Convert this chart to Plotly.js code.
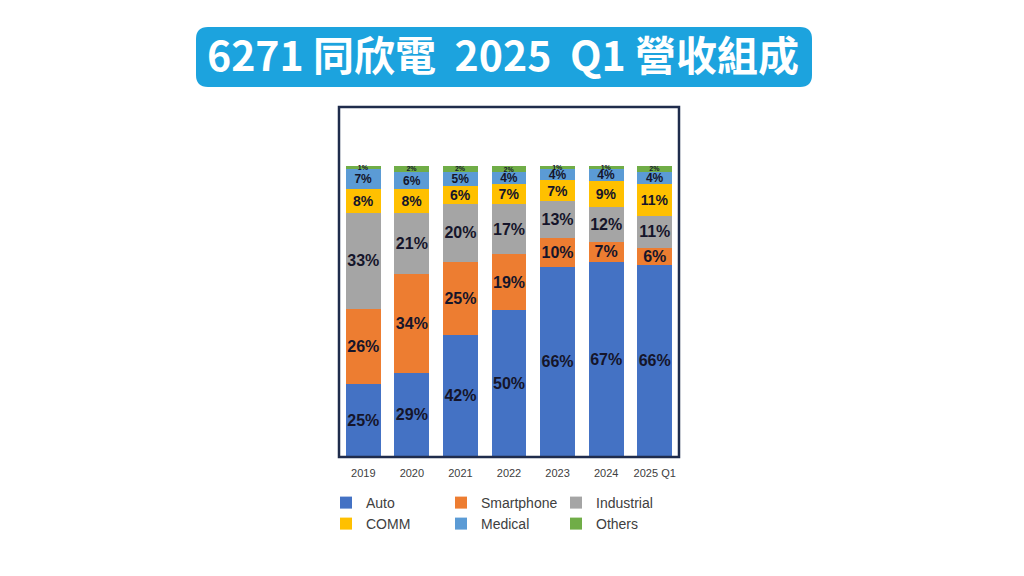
<!DOCTYPE html>
<html>
<head>
<meta charset="utf-8">
<script src="https://cdn.plot.ly/plotly-3.0.1.min.js"></script>
<style>html,body{margin:0;padding:0;background:#fff;}#chart{width:1024px;height:576px;}</style>
</head>
<body>
<div id="chart"></div>
<script>
const categories = ['2019', '2020', '2021', '2022', '2023', '2024', '2025 Q1'];
const autoVals = [25, 29, 42, 50, 66, 67, 66];
const smartphoneVals = [26, 34, 25, 19, 10, 7, 6];
const industrialVals = [33, 21, 20, 17, 13, 12, 11];
const commVals = [8, 8, 6, 7, 7, 9, 11];
const medicalVals = [7, 6, 5, 4, 4, 4, 4];
const othersVals = [1, 2, 2, 2, 1, 1, 2];
const seriesNames = ['Auto', 'Smartphone', 'Industrial', 'COMM', 'Medical', 'Others'];
const titleText = '6271 同欣電  2025  Q1 營收組成';

const W = 1024, H = 576;
const M = {l: 339, r: 345, t: 107, b: 119};
const PW = W - M.l - M.r, PH = H - M.t - M.b;
const px = x => (x - M.l) / PW;
const py = y => (H - M.b - y) / PH;

function roundRect(x0, y0, x1, y1, r) {
  const P = (x, y) => px(x).toFixed(5) + ',' + py(y).toFixed(5);
  return 'M' + P(x0 + r, y0) + ' L' + P(x1 - r, y0) + ' Q' + P(x1, y0) + ' ' + P(x1, y0 + r) +
    ' L' + P(x1, y1 - r) + ' Q' + P(x1, y1) + ' ' + P(x1 - r, y1) +
    ' L' + P(x0 + r, y1) + ' Q' + P(x0, y1) + ' ' + P(x0, y1 - r) +
    ' L' + P(x0, y0 + r) + ' Q' + P(x0, y0) + ' ' + P(x0 + r, y0) + ' Z';
}

const colors = ['#4472C4', '#ED7D31', '#A5A5A5', '#FFC000', '#5B9BD5', '#70AD47'];
const labelSizes = [16, 16, 16, 14, 12, 7];
const allVals = [autoVals, smartphoneVals, industrialVals, commVals, medicalVals, othersVals];

const traces = allVals.map((vals, i) => ({
  type: 'bar',
  name: seriesNames[i],
  x: categories,
  y: vals,
  text: vals.map(v => v + '%'),
  textposition: 'inside',
  insidetextanchor: 'middle',
  textangle: 0,
  constraintext: 'none',
  textfont: {family: 'Liberation Sans, Arial, sans-serif', size: labelSizes[i], color: '#15152a', weight: 'bold'},
  marker: {color: colors[i], line: {width: 0}},
  hoverinfo: 'skip',
  legend: i < 3 ? 'legend' : 'legend2'
}));

const legendCommon = {
  orientation: 'h', xref: 'paper', yref: 'paper', xanchor: 'left', yanchor: 'top',
  entrywidth: 70, entrywidthmode: 'pixels', traceorder: 'normal',
  font: {family: 'Liberation Sans, Arial, sans-serif', size: 14, color: '#404040'},
  bgcolor: 'rgba(0,0,0,0)', borderwidth: 0
};

const layout = {
  width: W, height: H,
  margin: M,
  paper_bgcolor: '#ffffff', plot_bgcolor: '#ffffff',
  barmode: 'stack', barnorm: 'percent', bargap: 0.28,
  showlegend: true,
  title: {
    text: '<b>' + titleText + '</b>',
    x: 503 / W, y: 1 - 57 / H, xref: 'container', yref: 'container',
    xanchor: 'center', yanchor: 'middle',
    font: {family: 'Noto Sans CJK TC, Noto Sans, sans-serif', size: 41, color: '#ffffff'}
  },
  xaxis: {
    type: 'category', range: [-0.5, 6.5], showgrid: false, zeroline: false, showline: false,
    ticks: '', ticklabelstandoff: 8,
    tickfont: {family: 'Liberation Sans, Arial, sans-serif', size: 11, color: '#404040'},
    fixedrange: true
  },
  yaxis: {range: [0, 120.3], visible: false, showgrid: false, zeroline: false, fixedrange: true},
  legend: Object.assign({}, legendCommon, {x: px(326), y: py(487)}),
  legend2: Object.assign({}, legendCommon, {x: px(326), y: py(508)}),
  shapes: [
    {type: 'path', xref: 'paper', yref: 'paper', path: roundRect(196, 27, 812, 87, 12),
     fillcolor: '#1CA3DE', line: {width: 0}, layer: 'below'},
    {type: 'rect', xref: 'paper', yref: 'paper', x0: 0, x1: 1, y0: 0, y1: 1,
     line: {color: '#1F2C4C', width: 2.5}, fillcolor: 'rgba(0,0,0,0)', layer: 'above'}
  ]
};

Plotly.newPlot('chart', traces, layout, {displayModeBar: false, staticPlot: true});
</script>
</body>
</html>
